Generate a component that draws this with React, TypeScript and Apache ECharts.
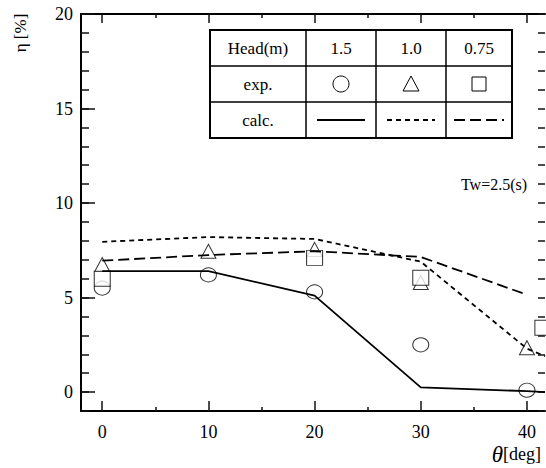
import React, { useEffect, useRef } from "react";
import * as echarts from "echarts";

// calculated curves (theta [deg], eta [%])
const calcHead15: number[][] = [[0, 6.4], [10, 6.4], [20, 5.1], [30, 0.25], [40, 0.05], [41.7, 0.0]];
const calcHead10: number[][] = [[0, 7.95], [10, 8.2], [20, 8.1], [30, 6.9], [40, 2.3], [41.7, 1.9]];
const calcHead075: number[][] = [[0, 6.95], [10, 7.25], [20, 7.45], [30, 7.15], [40, 5.15]];

// experimental points
const expHead15: number[][] = [[0, 5.5], [10, 6.2], [20, 5.3], [30, 2.5], [40, 0.1]];
const expHead10: number[][] = [[0, 6.75], [10, 7.45], [20, 7.55], [30, 5.8], [40, 2.35]];
const expHead075: number[][] = [[0, 6.0], [20, 7.1], [30, 6.05], [41.5, 3.4]];

const xMajor = [0, 10, 20, 30, 40];
const xMinor = [5, 15, 25, 35];
const yMajor = [0, 5, 10, 15, 20];

const headLabels = ["Head(m)", "1.5", "1.0", "0.75"];
const rowLabels = ["exp.", "calc."];

const FONT = "serif";
const X_MIN = -2;
const X_MAX = 41.7;
const Y_MIN = -1;
const Y_MAX = 20;

export default function App() {
  const ref = useRef<HTMLDivElement>(null);
  useEffect(() => {
    if (!ref.current) return;
    const chart = echarts.init(ref.current, null, { renderer: "svg" });

    const tx = [210, 306, 376, 446, 512];
    const ty = [30, 66, 102, 138];
    const cx = (i: number) => (tx[i] + tx[i + 1]) / 2;
    const cy = (j: number) => (ty[j] + ty[j + 1]) / 2;
    const graphics: any[] = [];
    graphics.push({
      type: "rect", z: 10,
      shape: { x: tx[0], y: ty[0], width: tx[4] - tx[0], height: ty[3] - ty[0] },
      style: { fill: "#fff", stroke: "#000", lineWidth: 2 },
    });
    [ty[1], ty[2]].forEach((y) =>
      graphics.push({ type: "line", z: 11, shape: { x1: tx[0], y1: y, x2: tx[4], y2: y }, style: { stroke: "#000", lineWidth: 1.5 } })
    );
    [tx[1], tx[2], tx[3]].forEach((x) =>
      graphics.push({ type: "line", z: 11, shape: { x1: x, y1: ty[0], x2: x, y2: ty[3] }, style: { stroke: "#000", lineWidth: 1.5 } })
    );
    headLabels.forEach((t, i) =>
      graphics.push({
        type: "text", z: 12, x: cx(i), y: cy(0),
        style: { text: t, fontSize: 17, fontFamily: FONT, fill: "#000", align: "center", verticalAlign: "middle" },
      })
    );
    rowLabels.forEach((t, j) =>
      graphics.push({
        type: "text", z: 12, x: cx(0), y: cy(j + 1),
        style: { text: t, fontSize: 17, fontFamily: FONT, fill: "#000", align: "center", verticalAlign: "middle" },
      })
    );
    graphics.push({ type: "ellipse", z: 12, shape: { cx: cx(1), cy: cy(1), rx: 8, ry: 8 }, style: { fill: "#fff", stroke: "#000", lineWidth: 1 } });
    graphics.push({
      type: "polygon", z: 12,
      shape: { points: [[cx(2), cy(1) - 8], [cx(2) + 8, cy(1) + 7], [cx(2) - 8, cy(1) + 7]] },
      style: { fill: "#fff", stroke: "#000", lineWidth: 1 },
    });
    graphics.push({ type: "rect", z: 12, shape: { x: cx(3) - 7, y: cy(1) - 7, width: 14, height: 14 }, style: { fill: "#fff", stroke: "#000", lineWidth: 1 } });
    graphics.push({ type: "line", z: 12, shape: { x1: cx(1) - 24, y1: cy(2), x2: cx(1) + 24, y2: cy(2) }, style: { stroke: "#000", lineWidth: 1.8 } });
    graphics.push({ type: "line", z: 12, shape: { x1: cx(2) - 24, y1: cy(2), x2: cx(2) + 24, y2: cy(2) }, style: { stroke: "#000", lineWidth: 1.8, lineDash: [5, 4] } });
    graphics.push({ type: "line", z: 12, shape: { x1: cx(3) - 25, y1: cy(2), x2: cx(3) + 25, y2: cy(2) }, style: { stroke: "#000", lineWidth: 1.8, lineDash: [11, 5] } });
    graphics.push({
      type: "text", z: 12, x: 494, y: 184,
      style: { text: "Tw=2.5(s)", fontSize: 16, fontFamily: FONT, fill: "#000", align: "center", verticalAlign: "middle" },
    });
    graphics.push({
      type: "text", z: 12, x: 20, y: 33, rotation: Math.PI / 2,
      style: { text: "η [%]", fontSize: 17, fontFamily: FONT, fill: "#000", align: "center", verticalAlign: "middle" },
    });
    graphics.push({
      type: "text", z: 12, x: 541, y: 454,
      style: {
        text: "{t|θ}{d|[deg]}", align: "right", verticalAlign: "middle", fill: "#000",
        rich: {
          t: { fontSize: 23, fontStyle: "italic", fontFamily: FONT, fill: "#000" },
          d: { fontSize: 18, fontFamily: FONT, fill: "#000" },
        },
      },
    });

    const option: any = {
      animation: false,
      grid: { left: 81, top: 14, width: 464, height: 397 },
      xAxis: [
        { type: "value", min: X_MIN, max: X_MAX, position: "bottom", splitLine: { show: false }, axisLine: { onZero: false, lineStyle: { color: "#000", width: 2 } }, axisTick: { show: true, inside: true, length: 10, customValues: xMajor, lineStyle: { color: "#111", width: 1.5 } }, axisLabel: { fontFamily: FONT, fontSize: 18, color: "#000", margin: 12, customValues: xMajor } },
        { type: "value", min: X_MIN, max: X_MAX, position: "bottom", splitLine: { show: false }, axisLine: { show: false, onZero: false }, axisTick: { show: true, inside: true, length: 4, customValues: xMinor, lineStyle: { color: "#111", width: 1.5 } }, axisLabel: { show: false } },
        { type: "value", min: X_MIN, max: X_MAX, position: "top", splitLine: { show: false }, axisLine: { onZero: false, lineStyle: { color: "#000", width: 2 } }, axisTick: { show: true, inside: true, length: 9, customValues: xMajor, lineStyle: { color: "#111", width: 1.5 } }, axisLabel: { show: false } },
        { type: "value", min: X_MIN, max: X_MAX, position: "top", splitLine: { show: false }, axisLine: { show: false, onZero: false }, axisTick: { show: true, inside: true, length: 4, customValues: xMinor, lineStyle: { color: "#111", width: 1.5 } }, axisLabel: { show: false } },
      ],
      yAxis: [
        { type: "value", min: Y_MIN, max: Y_MAX, interval: 1, position: "left", splitLine: { show: false }, axisLine: { onZero: false, lineStyle: { color: "#000", width: 2 } }, axisTick: { show: true, inside: true, length: 8, lineStyle: { color: "#111", width: 1.5 } }, axisLabel: { fontFamily: FONT, fontSize: 18, color: "#000", margin: 8, customValues: yMajor } },
        { type: "value", min: Y_MIN, max: Y_MAX, position: "left", splitLine: { show: false }, axisLine: { show: false, onZero: false }, axisTick: { show: true, inside: true, length: 14, customValues: yMajor, lineStyle: { color: "#111", width: 1.5 } }, axisLabel: { show: false } },
        { type: "value", min: Y_MIN, max: Y_MAX, interval: 1, position: "right", splitLine: { show: false }, axisLine: { show: false, onZero: false }, axisTick: { show: true, inside: true, length: 7, lineStyle: { color: "#111", width: 1.5 } }, axisLabel: { show: false } },
      ],
      series: [
        { type: "line", data: calcHead15, symbol: "none", lineStyle: { color: "#000", width: 1.8, type: "solid" } },
        { type: "line", data: calcHead10, symbol: "none", lineStyle: { color: "#000", width: 1.8, type: [5, 4] } },
        { type: "line", data: calcHead075, symbol: "none", lineStyle: { color: "#000", width: 1.8, type: [11, 5] } },
        { type: "scatter", data: expHead15, symbol: "circle", symbolSize: [16, 14], itemStyle: { color: "#fff", borderColor: "#000", borderWidth: 1 } },
        { type: "scatter", data: expHead10, symbol: "triangle", symbolSize: [15, 14], itemStyle: { color: "#fff", borderColor: "#000", borderWidth: 1 } },
        { type: "scatter", data: expHead075, symbol: "rect", symbolSize: [16, 15], clip: false, itemStyle: { color: "#fff", borderColor: "#000", borderWidth: 1 } },
      ],
      graphic: graphics,
    };
    chart.setOption(option);
    return () => chart.dispose();
  }, []);
  return <div ref={ref} style={{ position: "absolute", left: 0, top: 0, width: 546, height: 468 }} />;
}
